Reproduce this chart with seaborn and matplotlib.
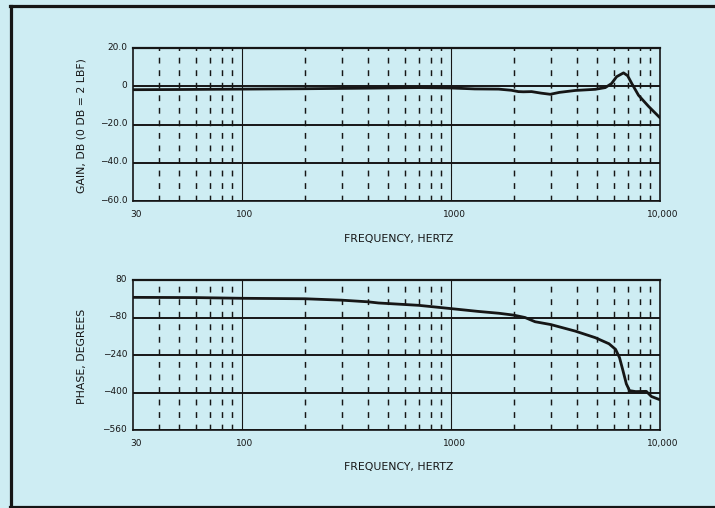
import matplotlib
matplotlib.use("Agg")
import matplotlib.pyplot as plt
import matplotlib.transforms as mtransforms
from matplotlib.lines import Line2D
from matplotlib.ticker import FixedLocator, FixedFormatter, NullFormatter
import pandas as pd
import seaborn as sns

# ---- data ----
gain_freq = [30, 50, 100, 200, 400, 700, 1000, 1300, 1690, 1945, 2100, 2220,
             2430, 2700, 2985, 3300, 3930, 4900, 5470, 5860, 6200, 6690, 7000,
             7330, 7890, 8810, 10000]
gain_db = [-1.8, -1.7, -1.5, -1.3, -1.0, -0.7, -0.9, -1.4, -1.5, -2.1, -2.8, -2.9,
           -2.8, -3.6, -4.2, -3.2, -2.2, -1.6, -0.7, 1.4, 5.0, 7.0, 5.5,
           1.4, -4.7, -10.5, -16.5]

phase_freq = [30, 60, 100, 200, 300, 400, 450, 700, 1000, 1350, 1700, 2000, 2260,
              2525, 3000, 3930, 4900, 5700, 6130, 6400, 6650, 6900, 7150, 7650,
              8600, 9100, 10000]
phase_deg = [6, 5, 2, 0, -6, -13, -18, -28, -42, -54, -62, -70, -80,
             -98, -110, -138, -166, -192, -216, -251, -307, -363, -392, -396,
             -395, -417, -431]

x_ticks = [30, 100, 1000, 10000]
x_tick_labels = ["30", "100", "1000", "10,000"]
major_grid_freqs = [100, 1000]
minor_grid_freqs = [40, 50, 60, 70, 80, 90,
                    200, 300, 400, 500, 600, 700, 800, 900,
                    2000, 3000, 4000, 5000, 6000, 7000, 8000, 9000]

gain_ticks = [20, 0, -20, -40, -60]
gain_tick_labels = ["20.0", "0", "\u221220.0", "\u221240.0", "\u221260.0"]
phase_ticks = [80, -80, -240, -400, -560]
phase_tick_labels = ["80", "\u221280", "\u2212240", "\u2212400", "\u2212560"]

x_label = "FREQUENCY, HERTZ"
gain_label = "GAIN, DB (0 DB = 2 LBF)"
phase_label = "PHASE, DEGREES"

# ---- style ----
sns.set_theme(style="white")
plt.rcParams['font.family'] = ['DejaVu Sans']
BG = '#ceedf3'
INK = '#161616'

fig = plt.figure(figsize=(7.15, 5.08), dpi=100, facecolor=BG)
ax1 = fig.add_axes([0.1856, 0.6043, 0.7375, 0.3012])
ax2 = fig.add_axes([0.1856, 0.1535, 0.7375, 0.2953])

gain_df = pd.DataFrame({"freq": gain_freq, "gain": gain_db})
phase_df = pd.DataFrame({"freq": phase_freq, "phase": phase_deg})

sns.lineplot(data=gain_df, x="freq", y="gain", ax=ax1, color=INK,
             linewidth=2.0, estimator=None, zorder=5)
sns.lineplot(data=phase_df, x="freq", y="phase", ax=ax2, color=INK,
             linewidth=2.0, estimator=None, zorder=5)


def style_axes(ax, yticks, ylabels, ylim, ylabel):
    ax.set_facecolor(BG)
    ax.set_xscale('log')
    ax.set_xlim(30, 10000)
    ax.set_ylim(*ylim)
    ax.xaxis.set_major_locator(FixedLocator(x_ticks))
    ax.xaxis.set_major_formatter(FixedFormatter(x_tick_labels))
    ax.xaxis.set_minor_locator(FixedLocator(minor_grid_freqs))
    ax.xaxis.set_minor_formatter(NullFormatter())
    ax.yaxis.set_major_locator(FixedLocator(yticks))
    ax.yaxis.set_major_formatter(FixedFormatter(ylabels))
    ax.tick_params(axis='both', which='both', length=0, labelsize=6.5,
                   colors=INK)
    ax.tick_params(axis='x', pad=6.5)
    ax.tick_params(axis='y', pad=4.0)
    # grids
    ax.grid(False)
    ax.yaxis.grid(True, which='major', color=INK, linewidth=1.4,
                  linestyle='-')
    ax.xaxis.grid(True, which='minor', color=INK, linewidth=1.05,
                  linestyle=(0, (4.0, 4.6)))
    for f in major_grid_freqs:
        ax.axvline(f, color=INK, linewidth=0.8, zorder=1)
    for s in ax.spines.values():
        s.set_visible(True)
        s.set_color(INK)
        s.set_linewidth(1.2)
    ax.spines['top'].set_linewidth(1.6)
    ax.set_xlabel(x_label, fontsize=7.8, color=INK)
    ax.xaxis.label.set_va('center')
    ax.xaxis.set_label_coords(0.505, -0.245)
    ax.set_ylabel(ylabel, fontsize=7.8, color=INK)
    ax.yaxis.label.set_va('center')
    ax.yaxis.set_label_coords(-0.097, 0.49)
    offset = mtransforms.ScaledTranslation(3 / 100, 0, fig.dpi_scale_trans)
    for lab in ax.get_xticklabels():
        lab.set_transform(lab.get_transform() + offset)
    up = mtransforms.ScaledTranslation(0, 2 / 100, fig.dpi_scale_trans)
    for lab in ax.get_yticklabels():
        lab.set_transform(lab.get_transform() + up)


style_axes(ax1, gain_ticks, gain_tick_labels, (-60, 20), gain_label)
style_axes(ax2, phase_ticks, phase_tick_labels, (-560, 80), phase_label)

# ---- outer frame (top, left, bottom rules) ----
lw_frame = 2.3
fig.add_artist(Line2D([10 / 715, 1.0], [1 - 5.5 / 508, 1 - 5.5 / 508],
                      transform=fig.transFigure, color=INK, linewidth=lw_frame,
                      solid_capstyle='projecting'))
fig.add_artist(Line2D([11.5 / 715, 11.5 / 715], [0.0, 1 - 5.5 / 508],
                      transform=fig.transFigure, color=INK, linewidth=lw_frame,
                      solid_capstyle='projecting'))
fig.add_artist(Line2D([10 / 715, 1.0], [1.5 / 508, 1.5 / 508],
                      transform=fig.transFigure, color=INK, linewidth=lw_frame,
                      solid_capstyle='projecting'))

fig.savefig("out.png", dpi=100, facecolor=BG)
